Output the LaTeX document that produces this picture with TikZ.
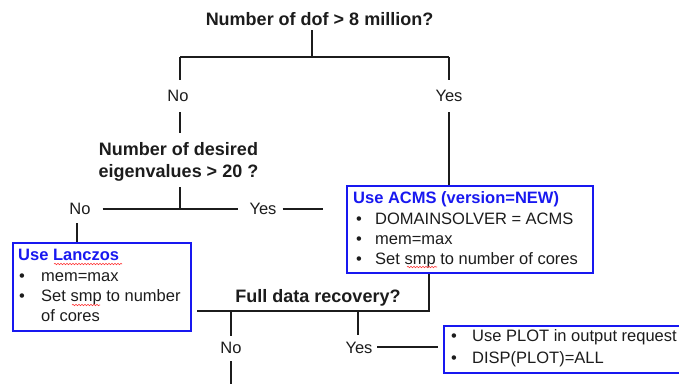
\documentclass[tikz,border=0pt]{standalone}
\usepackage{fontspec}
\setmainfont{Liberation Sans}
\usetikzlibrary{calc,decorations.pathmorphing}
\definecolor{boxblue}{RGB}{24,24,240}
\definecolor{ink}{RGB}{28,28,28}
\tikzset{
  wire/.style={draw=ink, line width=1.4pt},
  question/.style={font=\fontsize{18}{22}\selectfont\bfseries, text=ink, inner sep=0pt, align=center},
  answer/.style={font=\fontsize{16.5}{20}\selectfont, text=ink, inner sep=0pt},
  actionbox/.style={draw=boxblue, line width=2.2pt, inner sep=0pt, anchor=north west},
  boxtext/.style={font=\fontsize{16.5}{20}\selectfont, text=ink, inner sep=0pt, anchor=base west, align=left},
  spellmark/.style={draw=red!80, line width=0.6pt, decorate,
    decoration={snake, segment length=3pt, amplitude=0.7pt}},
}
\newcommand{\boxhead}[1]{{\fontsize{16.5}{20}\selectfont\bfseries\color{boxblue}#1}}
\begin{document}
\begin{tikzpicture}[x=1pt,y=-1pt]
\useasboundingbox (0,0) rectangle (679,383);

% decision questions
\node[question, anchor=base] (q1) at (319.5,25) {Number of dof > 8 million?};
\node[question, anchor=north] (q2) at (178.5,142) {Number of desired\\eigenvalues > 20 ?};
\node[question, anchor=base] (q3) at (318,302) {Full data recovery?};

% branch labels
\node[answer, anchor=base] (n1) at (178,101) {No};
\node[answer, anchor=base] (y1) at (449,101) {Yes};
\node[answer, anchor=base] (n2) at (80,214) {No};
\node[answer, anchor=base] (y2) at (263,214) {Yes};
\node[answer, anchor=base] (n3) at (231,353) {No};
\node[answer, anchor=base] (y3) at (359,353) {Yes};

% action boxes
\node[actionbox, minimum width=178pt, minimum height=88pt] (lanczos) at (12,242) {};
\node[actionbox, minimum width=246pt, minimum height=87pt] (acms) at (346,185) {};
\node[actionbox, minimum width=270pt, minimum height=47pt] (plot) at (443,325) {};

\node[boxtext] (lanczostext) at (18,260) {%
  \begin{tabular}[t]{@{}p{23pt}@{}l@{}}
    \multicolumn{2}{@{}l@{}}{\boxhead{Use Lanczos}}\\[1pt]
    \hspace{1pt}\textbullet & mem=max\\
    \hspace{1pt}\textbullet & Set smp to number\\
    & of cores
  \end{tabular}};
\node[boxtext] (acmstext) at (353,203) {%
  \begin{tabular}[t]{@{}p{22pt}@{}l@{}}
    \multicolumn{2}{@{}l@{}}{\boxhead{Use ACMS (version=NEW)}}\\[1pt]
    \hspace{3pt}\textbullet & DOMAINSOLVER = ACMS\\
    \hspace{3pt}\textbullet & mem=max\\
    \hspace{3pt}\textbullet & Set smp to number of cores
  \end{tabular}};
\node[boxtext] (plottext) at (450,341) {%
  \begin{tabular}[t]{@{}p{22pt}@{}l@{}}
    \hspace{1pt}\textbullet & Use PLOT in output request\\[2pt]
    \hspace{1pt}\textbullet & DISP(PLOT)=ALL
  \end{tabular}};

% spell-check underlines
\draw[spellmark] (54,264) -- (122,264);
\draw[spellmark] (72,305) -- (100,305);
\draw[spellmark] (407,267) -- (437,267);

% junctions
\coordinate (j1) at (312,57);
\coordinate (jl) at (180,57);
\coordinate (jr) at (449,57);
\coordinate (j2) at (180,209);
\coordinate (k1) at (77,223);
\coordinate (y2end) at (323,209);
\coordinate (j4) at (429,311);
\coordinate (j5) at (197,311);
\coordinate (ja) at (231,311);
\coordinate (jb) at (358,311);
\coordinate (bottomend) at (231,386);
\coordinate (y3line) at (377,347);
\coordinate (plotin) at (438,347);

% connectors
\draw[wire] ($(q1.south -| j1)+(0,5)$) -- (j1);
\draw[wire] (jl) -- (jr);
\draw[wire] (jl) -- ($(n1.north -| jl)+(0,-9)$);
\draw[wire] ($(n1.south -| jl)+(0,11)$) -- ($(q2.north -| jl)+(0,-9)$);
\draw[wire] (jr) -- ($(y1.north -| jr)+(0,-9)$);
\draw[wire] ($(y1.south -| jr)+(0,11)$) -- (acms.north -| jr);

\draw[wire] ($(q2.south -| j2)+(0,6)$) -- (j2);
\draw[wire] ($(n2.east |- j2)+(12,0)$) -- ($(y2.west |- j2)+(-11,0)$);
\draw[wire] ($(y2.east |- j2)+(6,0)$) -- (y2end);
\draw[wire] (k1) -- (k1 |- lanczos.north);

\draw[wire] (acms.south -| j4) -- (j4) -- (j5);
\draw[wire] (ja) -- ($(n3.north -| ja)+(0,-5)$);
\draw[wire] ($(n3.south -| ja)+(0,8)$) -- (bottomend);
\draw[wire] (jb) -- ($(y3.north -| jb)+(0,-6)$);
\draw[wire] (y3line) -- (plotin);
\end{tikzpicture}
\end{document}
